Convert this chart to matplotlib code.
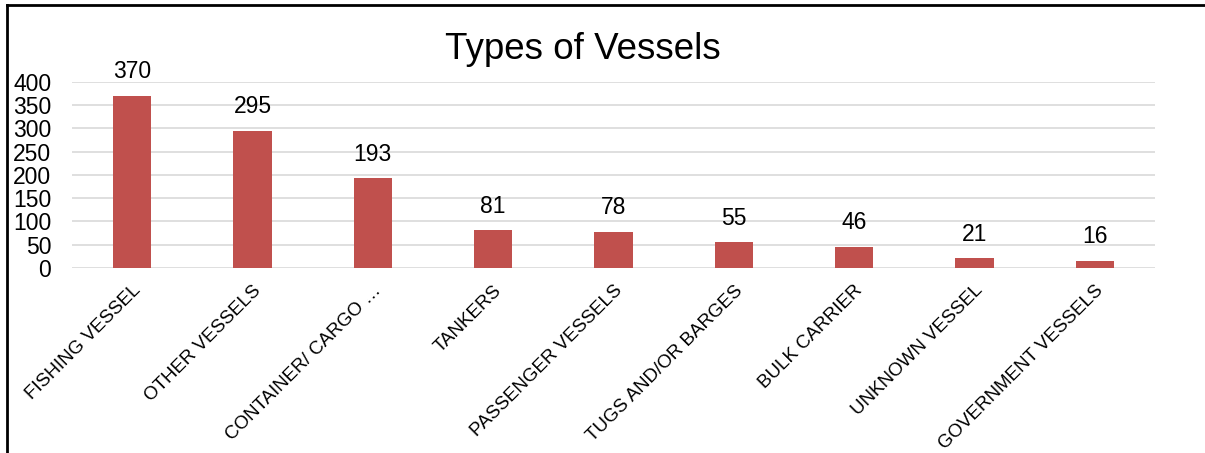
import matplotlib.pyplot as plt
import matplotlib.lines as mlines

# data
categories = ['FISHING VESSEL', 'OTHER VESSELS', 'CONTAINER/ CARGO …', 'TANKERS',
              'PASSENGER VESSELS', 'TUGS AND/OR BARGES', 'BULK CARRIER',
              'UNKNOWN VESSEL', 'GOVERNMENT VESSELS']
counts = [370, 295, 193, 81, 78, 55, 46, 21, 16]

plt.rcParams['font.family'] = ['Liberation Sans', 'DejaVu Sans']

fig = plt.figure(figsize=(12.05, 4.53), dpi=100)
ax = fig.add_axes([0.0598, 0.4084, 0.8987, 0.4106])

x = range(len(categories))
ax.bar(x, counts, width=0.32, color='#C0504D', zorder=3)
for i, v in enumerate(counts):
    ax.annotate(str(v), (i, v), xytext=(0, 9), textcoords='offset points',
                ha='center', va='bottom', fontsize=16.5)

ax.set_ylim(0, 400)
ax.set_xlim(-0.5, len(categories) - 0.5)
ax.set_yticks(range(0, 401, 50))
ax.grid(axis='y', color='#D9D9D9', linewidth=1.2, zorder=0)
for s in ax.spines.values():
    s.set_visible(False)
ax.tick_params(length=0)
ax.tick_params(axis='y', labelsize=16.5, pad=15)
ax.set_xticks(list(x))
ax.set_xticklabels(categories, rotation=45, ha='right', rotation_mode='anchor', fontsize=13.5)
ax.tick_params(axis='x', pad=10)

fig.text(0.484, 0.89, 'Types of Vessels', ha='center', va='center', fontsize=26.5)

# outer border
fig.add_artist(mlines.Line2D([0.006, 0.006], [0, 0.989], color='black', lw=2))
fig.add_artist(mlines.Line2D([0.006, 1], [0.989, 0.989], color='black', lw=2))

fig.savefig('out.png')
